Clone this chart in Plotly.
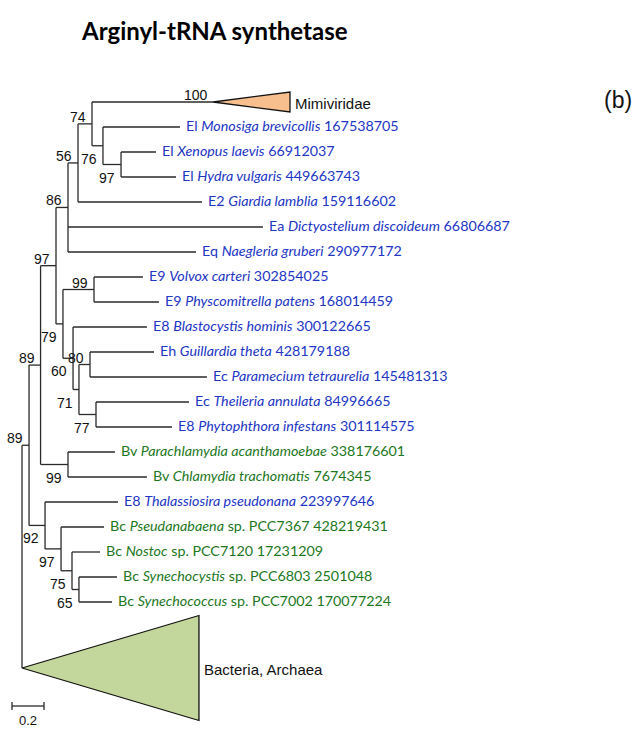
import plotly.graph_objects as go

# ---------------- data ----------------
leaf_ids = ["Mimiviridae", "Monosiga", "Xenopus", "Hydra", "Giardia", "Dictyostelium",
            "Naegleria", "Volvox", "Physcomitrella", "Blastocystis", "Guillardia",
            "Paramecium", "Theileria", "Phytophthora", "Parachlamydia", "Chlamydia",
            "Thalassiosira", "Pseudanabaena", "Nostoc", "Synechocystis", "Synechococcus",
            "Bacteria"]
leaf_parent = ["n74", "n76", "n97b", "n97b", "n56", "n86", "n86", "n99a", "n99a", "n60",
               "n80", "n80", "n77", "n77", "n99b", "n99b", "n92", "n97c", "n75", "n65",
               "n65", "root"]
leaf_depth = [1.194, 0.9875, 0.8375, 0.9625, 1.125, 1.506, 1.0875, 0.756, 0.856, 0.781,
              0.825, 1.156, 1.044, 0.9375, 0.581, 0.781, 0.600, 0.5125, 0.4875, 0.594,
              0.5625, 0.0]
leaf_prefix = ["", "El", "El", "El", "E2", "Ea", "Eq", "E9", "E9", "E8", "Eh", "Ec", "Ec",
               "E8", "Bv", "Bv", "E8", "Bc", "Bc", "Bc", "Bc", ""]
leaf_taxon = ["Mimiviridae", "Monosiga brevicollis", "Xenopus laevis", "Hydra vulgaris",
              "Giardia lamblia", "Dictyostelium discoideum", "Naegleria gruberi",
              "Volvox carteri", "Physcomitrella patens", "Blastocystis hominis",
              "Guillardia theta", "Paramecium tetraurelia", "Theileria annulata",
              "Phytophthora infestans", "Parachlamydia acanthamoebae", "Chlamydia trachomatis",
              "Thalassiosira pseudonana", "Pseudanabaena", "Nostoc", "Synechocystis",
              "Synechococcus", "Bacteria, Archaea"]
leaf_extra = ["", "", "", "", "", "", "", "", "", "", "", "", "", "", "", "", "",
              "sp. PCC7367", "sp. PCC7120", "sp. PCC6803", "sp. PCC7002", ""]
leaf_gi = ["", "167538705", "66912037", "449663743", "159116602", "66806687", "290977172",
           "302854025", "168014459", "300122665", "428179188", "145481313", "84996665",
           "301114575", "338176601", "7674345", "223997646", "428219431", "17231209",
           "2501048", "170077224", ""]
leaf_group = ["clade", "E", "E", "E", "E", "E", "E", "E", "E", "E", "E", "E", "E", "E",
              "B", "B", "E", "B", "B", "B", "B", "clade"]
leaf_support = ["100", "", "", "", "", "", "", "", "", "", "", "", "", "", "", "", "", "",
                "", "", "", ""]
# collapsed clades: depth of the far edge and vertical extent (leaf slots)
clade_ids = ["Mimiviridae", "Bacteria"]
clade_far_depth = [1.675, 1.106]
clade_half_height = [0.4, 2.1]
leaf_slots = [1] * 21 + [4.28]

node_ids = ["root", "n89b", "n89a", "n97a", "n86", "n56", "n74", "n76", "n97b", "n79",
            "n99a", "n60", "n71", "n80", "n77", "n99b", "n92", "n97c", "n75", "n65"]
node_parent = [None, "root", "n89b", "n89a", "n97a", "n86", "n56", "n74", "n76", "n97a",
               "n79", "n79", "n60", "n71", "n71", "n89a", "n89b", "n92", "n97c", "n75"]
node_depth = [0.0, 0.044, 0.116, 0.2125, 0.2875, 0.35, 0.4375, 0.506, 0.619, 0.256,
              0.45, 0.319, 0.356, 0.425, 0.4625, 0.2875, 0.144, 0.244, 0.3125, 0.356]
node_support = ["", "89", "89", "97", "86", "56", "74", "76", "97", "79",
                "99", "60", "71", "80", "77", "99", "92", "97", "75", "65"]
node_support_side = ["", "above", "above", "above", "above", "above", "above", "below",
                     "below", "below", "above", "below", "below", "above", "below",
                     "below", "below", "below", "below", "below"]

scale_length = 0.2
scale_label = "0.2"
title_text = "Arginyl-tRNA synthetase"
panel_text = "(b)"

# ---------------- styles ----------------
LINE = "#2a2a2a"
BLUE = "#2236c4"
GREEN = "#1d771d"
label_font = "Lato, 'Open Sans', sans-serif"
arial = "'Liberation Sans', Arial, sans-serif"

# ---------------- geometry from tree ----------------
leaf_y = []
acc = 0.0
for s in leaf_slots:
    leaf_y.append(acc + s / 2 - 0.5)
    acc += s

pos = {}   # id -> (x, y)
for i, lid in enumerate(leaf_ids):
    pos[lid] = (leaf_depth[i], leaf_y[i])
depth = dict(zip(node_ids, node_depth))
children = {n: [] for n in node_ids}
for i, lid in enumerate(leaf_ids):
    children[leaf_parent[i]].append(lid)
for n, p in zip(node_ids, node_parent):
    if p is not None:
        children[p].append(n)


def node_y(n):
    if n in pos:
        return pos[n][1]
    ys = [node_y(c) for c in children[n]]
    y = (min(ys) + max(ys)) / 2
    pos[n] = (depth[n], y)
    return y


node_y("root")

xs, ys = [], []
for n in node_ids:
    x, _ = pos[n]
    cy = [pos[c][1] for c in children[n]]
    xs += [x, x, None]
    ys += [min(cy), max(cy), None]
    for c in children[n]:
        cx, cyy = pos[c]
        if cx > x:
            xs += [x, cx, None]
            ys += [cyy, cyy, None]

fig = go.Figure()
fig.add_trace(go.Scatter(x=xs, y=ys, mode="lines", line=dict(color=LINE, width=1.3),
                         hoverinfo="skip", showlegend=False))

clade_fill = {"Mimiviridae": "#f8bf8e", "Bacteria": "#c3d69b"}
for cid, far, hh in zip(clade_ids, clade_far_depth, clade_half_height):
    ax, ay = pos[cid]
    fig.add_trace(go.Scatter(x=[ax, far, far, ax], y=[ay, ay - hh, ay + hh, ay],
                             mode="lines", fill="toself", fillcolor=clade_fill[cid],
                             line=dict(color="#111111", width=1.3),
                             hoverinfo="skip", showlegend=False))

annotations = []
for i, lid in enumerate(leaf_ids):
    x, y = pos[lid]
    if leaf_group[i] == "clade":
        far = clade_far_depth[clade_ids.index(lid)]
        annotations.append(dict(x=far, y=y, text=leaf_taxon[i], xanchor="left",
                                yanchor="middle", xshift=3, yshift=-1, showarrow=False,
                                font=dict(family=arial, size=15, color="#111111")))
    else:
        txt = f"{leaf_prefix[i]} <i>{leaf_taxon[i]}</i>"
        if leaf_extra[i]:
            txt += f" {leaf_extra[i]}"
        txt += f" {leaf_gi[i]}"
        color = BLUE if leaf_group[i] == "E" else GREEN
        annotations.append(dict(x=x, y=y, text=txt, xanchor="left", yanchor="middle",
                                xshift=4, yshift=2, showarrow=False,
                                font=dict(family=label_font, size=14.3, color=color)))
    if leaf_support[i]:
        annotations.append(dict(x=x, y=y, text=leaf_support[i], xanchor="right",
                                yanchor="middle", xshift=-3, yshift=7, showarrow=False,
                                font=dict(family=arial, size=14, color="#111111")))

for n, s, side in zip(node_ids, node_support, node_support_side):
    if not s:
        continue
    x, y = pos[n]
    annotations.append(dict(x=x, y=y, text=s, xanchor="right", yanchor="middle",
                            xshift=-4, yshift=7 if side == "above" else -13,
                            showarrow=False,
                            font=dict(family=arial, size=14, color="#111111")))

# scale bar
sb_x0 = -0.0625
sb_y = 24.16
fig.add_trace(go.Scatter(
    x=[sb_x0, sb_x0 + scale_length, None, sb_x0, sb_x0, None,
       sb_x0 + scale_length, sb_x0 + scale_length],
    y=[sb_y, sb_y, None, sb_y - 0.16, sb_y + 0.16, None, sb_y - 0.16, sb_y + 0.16],
    mode="lines", line=dict(color=LINE, width=1.3), hoverinfo="skip", showlegend=False))
annotations.append(dict(x=sb_x0 + scale_length / 2, y=sb_y, text=scale_label,
                        xanchor="center", yanchor="middle", yshift=-14, showarrow=False,
                        font=dict(family=arial, size=13, color="#111111")))

annotations.append(dict(x=0.335, y=0.959, xref="paper", yref="paper", text=f"<b>{title_text}</b>",
                        xanchor="center", yanchor="middle", showarrow=False,
                        font=dict(family=label_font, size=24, color="#000000")))
annotations.append(dict(x=0.964, y=0.864, xref="paper", yref="paper", text=panel_text,
                        xanchor="center", yanchor="middle", showarrow=False,
                        font=dict(family=arial, size=23, color="#111111")))

fig.update_layout(
    width=641, height=733,
    margin=dict(l=0, r=0, t=0, b=0),
    paper_bgcolor="white", plot_bgcolor="white",
    xaxis=dict(range=[-22 / 160, 619 / 160], visible=False, fixedrange=True),
    yaxis=dict(range=[(733 - 102) / 25, -102 / 25], visible=False, fixedrange=True),
    annotations=annotations,
    showlegend=False,
)

fig.write_html("out.html", config={"displayModeBar": False},
               post_script="document.body.style.margin='0';document.body.style.overflow='hidden';")
